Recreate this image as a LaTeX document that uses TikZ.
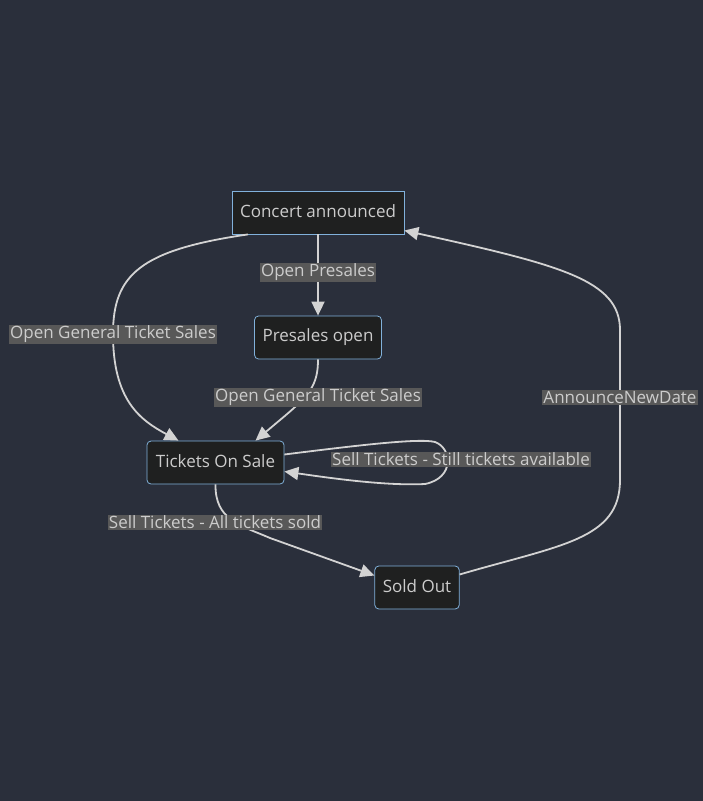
\documentclass[tikz,border=0pt]{standalone}
\usepackage{fontspec}
\setmainfont{Open Sans}
\usetikzlibrary{arrows.meta}

\definecolor{bgdark}{HTML}{2A2F3B}
\definecolor{statefill}{HTML}{1F2020}
\definecolor{stateline}{HTML}{81B1DB}
\definecolor{edgegray}{HTML}{D3D3D3}
\definecolor{labelgray}{HTML}{585858}
\definecolor{textgray}{HTML}{CCCCCC}

\tikzset{
  state/.style={draw=stateline, fill=statefill, text=textgray, line width=0.8pt,
    minimum height=43pt, inner xsep=8pt, font=\fontsize{17}{20}\selectfont},
  edgelabel/.style={fill=labelgray, text=textgray, inner xsep=1pt, inner ysep=1pt,
    font=\fontsize{17}{20}\selectfont},
  trans/.style={draw=edgegray, line width=1.8pt, -{Triangle[length=14pt, width=13pt]}}
}

\begin{document}
\begin{tikzpicture}[x=1pt, y=-1pt]
    \fill[bgdark] (0,0) rectangle (703,801);
    \useasboundingbox (0,0) rectangle (703,801);

    % states
    \node[state, minimum width=170pt] (announced) at (318,212.5) {\raisebox{2pt}{Concert announced}};
    \node[state, rounded corners=4pt, minimum width=124pt] (presales) at (318,337.5) {\raisebox{2pt}{Presales open}};
    \node[state, rounded corners=4pt, minimum width=137pt] (onsale) at (215.5,462.5) {\raisebox{2pt}{Tickets On Sale}};
    \node[state, rounded corners=4pt, minimum width=84pt] (soldout) at (417,587.5) {\raisebox{2pt}{Sold Out}};

    % transitions
    \draw[trans] (announced) -- (presales);
    \draw[trans] ([xshift=-70pt]announced.south) .. controls (140,250) and (113,275) .. (113,334)
        .. controls (113,400) and (140,420) .. ([xshift=-37pt]onsale.north);
    \draw[trans] (presales.south) .. controls (318,385) and (310,395) .. (280,420)
        -- ([xshift=40pt]onsale.north);
    \draw[trans] ([yshift=8pt]onsale.east) .. controls (360,445) and (420,438) .. (435,442)
        .. controls (452,448) and (455,478) .. (425,484)
        .. controls (385,486) and (330,478) .. ([yshift=-9pt]onsale.east);
    \draw[trans] (onsale.south) .. controls (215,520) and (240,525) .. (270,538)
        -- ([yshift=12pt]soldout.west);
    \draw[trans] ([yshift=13pt]soldout.east) .. controls (560,545) and (620,540) .. (620,480)
        -- (620,330) .. controls (620,280) and (560,265) .. ([yshift=-18pt]announced.east);

    % labels
    \node[edgelabel] (lbpresales) at (318,272) {Open Presales};
    \node[edgelabel] (lbgeneral) at (113,334) {Open General Ticket Sales};
    \node[edgelabel] (lbgeneraltwo) at (318,397.5) {Open General Ticket Sales};
    \node[edgelabel] (lbstill) at (461,459.5) {Sell Tickets - Still tickets available};
    \node[edgelabel] (lbsold) at (215,522.5) {Sell Tickets - All tickets sold};
    \node[edgelabel] (lbnewdate) at (620,397.5) {AnnounceNewDate};
\end{tikzpicture}
\end{document}
